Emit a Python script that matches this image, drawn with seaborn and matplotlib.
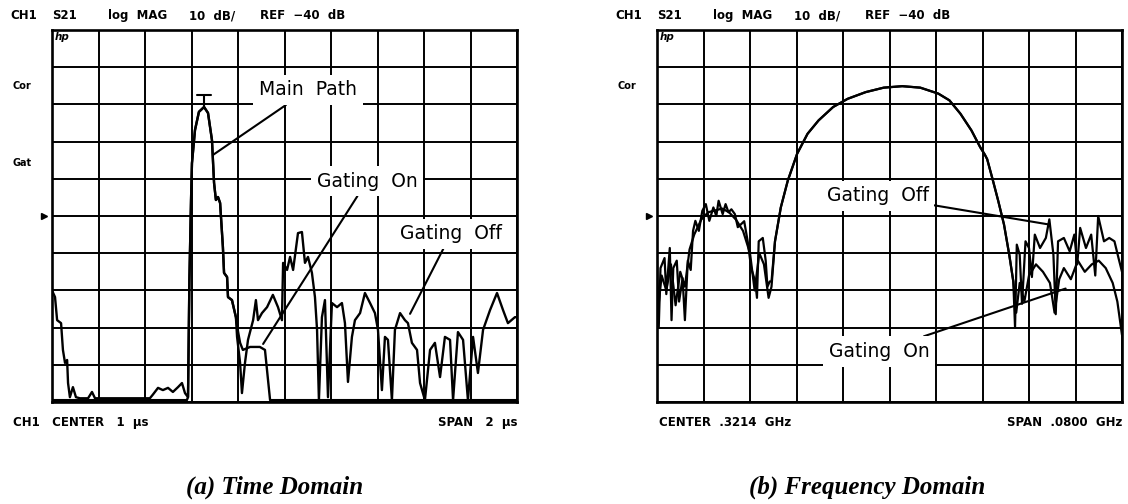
import numpy as np
import pandas as pd
import matplotlib
matplotlib.use("Agg")
import matplotlib.pyplot as plt
import seaborn as sns

# ---- (a) time domain, x in microseconds, y in dB ----
time_off_t = [0.000, 0.013, 0.022, 0.039, 0.047, 0.056, 0.065, 0.069, 0.077, 0.090,
              0.103, 0.120, 0.155, 0.172, 0.185, 0.421, 0.434, 0.456, 0.477, 0.499,
              0.520, 0.542, 0.559, 0.572, 0.585, 0.591, 0.598, 0.602, 0.615, 0.632,
              0.654, 0.671, 0.688, 0.697, 0.705, 0.714, 0.723, 0.735, 0.740, 0.753,
              0.757, 0.774, 0.791, 0.796, 0.809, 0.817, 0.830, 0.843, 0.865, 0.877,
              0.886, 0.903, 0.925, 0.950, 0.972, 0.989, 0.994, 1.011, 1.024, 1.037,
              1.058, 1.075, 1.088, 1.101, 1.118, 1.131, 1.140, 1.148, 1.161, 1.174,
              1.187, 1.204, 1.226, 1.247, 1.260, 1.273, 1.290, 1.303, 1.325, 1.346,
              1.368, 1.389, 1.402, 1.419, 1.432, 1.445, 1.462, 1.475, 1.497, 1.518,
              1.531, 1.548, 1.570, 1.583, 1.604, 1.626, 1.647, 1.669, 1.690, 1.712,
              1.725, 1.746, 1.768, 1.789, 1.811, 1.832, 1.854, 1.884, 1.914, 1.940,
              1.961, 1.991, 2.000]
time_off_db = [-60, -61.8, -68, -68.8, -76, -79.5, -78.7, -84.9, -88.7, -86,
               -88.7, -89, -89, -87.3, -89, -89, -88, -86.2, -86.8, -86.2,
               -87.3, -86, -84.9, -87.6, -88.7, -57, -35.7, -25.8, -16.9, -12,
               -10.7, -12.3, -19.6, -31.1, -35.7, -34.9, -36.5, -48.3, -55.3, -56.4,
               -61.8, -62.6, -67.2, -72.5, -79.5, -87.6, -79.5, -73.3, -68, -62.6,
               -68, -66.1, -64.5, -61.2, -64.5, -68, -52.6, -54.5, -51, -54.5,
               -44.6, -44.3, -52.6, -51, -55.3, -61.8, -70.6, -89.5, -67.2, -62.6,
               -88.7, -63.4, -64.5, -63.4, -68.8, -84.6, -72.5, -68, -66.1, -60.7,
               -63.4, -66.1, -70.6, -86.8, -72.5, -73.3, -89.5, -70.6, -66.1, -68,
               -68.8, -74.1, -76, -84.9, -89.5, -76, -74.1, -83.3, -72.5, -73.3,
               -89.5, -71.2, -73.3, -89.5, -72.5, -82.2, -70.6, -65.3, -60.7, -65.3,
               -68.8, -67.2, -67.2]

time_on_t = [0.000, 0.580, 0.585, 0.591, 0.598, 0.602, 0.615, 0.632, 0.654, 0.671,
             0.688, 0.697, 0.705, 0.714, 0.723, 0.735, 0.740, 0.753, 0.757, 0.774,
             0.791, 0.800, 0.809, 0.821, 0.852, 0.894, 0.916, 0.929, 0.938, 2.000]
time_on_db = [-89.5, -89.5, -88.7, -57, -35.7, -25.8, -16.9, -12, -10.7, -12.3,
              -19.6, -31.1, -35.7, -34.9, -36.5, -48.3, -55.3, -56.4, -61.8, -62.6,
              -67.2, -71, -74.1, -76, -75.2, -75.2, -76, -84, -89.5, -89.5]

peak_t, peak_db, marker_db = 0.654, -10.7, -7.5

# ---- (b) frequency domain, x in GHz, y in dB ----
freq_off_f = [.2814, .2817, .2820, .2827, .2830, .2836, .2839, .2842, .2848, .2852,
              .2858, .2862, .2867, .2872, .2876, .2880, .2886, .2892, .2898, .2904,
              .2911, .2916, .2920, .2927, .2932, .2937, .2942, .2948, .2953, .2958,
              .2964, .2970, .2976, .2983, .2986, .2989, .2996, .3001, .3004, .3008,
              .3011, .3017, .3027, .3039, .3055, .3073, .3092, .3117, .3142, .3173,
              .3204, .3236, .3267, .3298, .3317, .3336, .3355, .3370, .3378, .3382,
              .3392, .3401, .3411, .3420, .3427, .3430, .3433, .3438, .3442, .3448,
              .3454, .3459, .3464, .3473, .3483, .3489, .3496, .3500, .3504, .3514,
              .3524, .3532, .3537, .3542, .3552, .3561, .3568, .3573, .3583, .3592,
              .3601, .3608, .3614]
freq_off_db = [-52, -70, -54, -51.3, -61, -48.6, -68, -54, -52, -63,
               -56.7, -68, -52, -54.5, -44, -41.3, -44, -38.6, -36.8, -41.3,
               -37.7, -40, -35.9, -39.5, -36.8, -39, -38.2, -39.5, -43, -42.3,
               -41.4, -46.8, -54, -57.6, -62, -46.8, -45.9, -52, -59, -57.6,
               -57.6, -46.8, -37.7, -30.5, -23.3, -17.9, -14.3, -10.7, -8.5, -6.7,
               -5.5, -5.1, -5.5, -7.1, -8.9, -12.5, -17, -21.5, -23.5, -24.7,
               -30.5, -35.9, -42.3, -50.4, -57.6, -70, -47.7, -50.4, -63.6, -46.8,
               -48.6, -56.4, -45, -48.6, -45.9, -40.9, -50.4, -66.4, -46.8, -45.9,
               -49.5, -45, -53, -43.2, -48.6, -45, -56, -40, -46.8, -45.9,
               -46.8, -51.3, -55]

freq_on_f = [.2814, .2822, .2830, .2838, .2846, .2854, .2862, .2870, .2878, .2890,
             .2902, .2914, .2926, .2938, .2950, .2962, .2974, .2982, .2990, .2998,
             .3006, .3011, .3017, .3027, .3039, .3055, .3073, .3092, .3117, .3142,
             .3173, .3204, .3236, .3267, .3298, .3317, .3336, .3355, .3370, .3378,
             .3382, .3392, .3401, .3411, .3420, .3427, .3432, .3438, .3446, .3454,
             .3466, .3478, .3490, .3498, .3506, .3514, .3526, .3538, .3550, .3562,
             .3574, .3586, .3598, .3606, .3614]
freq_on_db = [-68, -56, -60, -53, -64, -55, -59, -49, -45, -41,
              -39, -38.5, -38, -39, -41, -44, -50, -60, -50, -53,
              -62, -59, -46.8, -37.7, -30.5, -23.3, -17.9, -14.3, -10.7, -8.5,
              -6.7, -5.5, -5.1, -5.5, -7.1, -8.9, -12.5, -17, -21.5, -23.5,
              -24.7, -30.5, -35.9, -42.3, -50.4, -57.6, -66, -58, -63, -56,
              -53, -55, -58, -66, -57, -54, -57, -52, -55, -53,
              -52, -54, -58, -63, -72]

ref_db = -40
time_center, time_span = 1.0, 2.0
freq_center, freq_span = 0.3214, 0.08

sns.set_style("white")
plt.rcParams['font.family'] = ['DejaVu Sans']
plt.rcParams['text.color'] = 'black'

fig = plt.figure(figsize=(11.28, 5.04), dpi=100)
ax1 = fig.add_axes([52 / 1128, 1 - 402 / 504, 465 / 1128, 372 / 504])
ax2 = fig.add_axes([657 / 1128, 1 - 402 / 504, 465 / 1128, 372 / 504])

hdr = dict(fontsize=8.5, fontweight='bold', va='center', ha='left', clip_on=False)
lab = dict(fontsize=13.5, ha='center', va='center', zorder=6,
           bbox=dict(boxstyle='square,pad=0.3', fc='white', ec='none'))
lead = dict(arrowstyle='-', color='black', lw=1.5, shrinkA=0, shrinkB=0)


def screen(ax, center, span):
    lo, hi = center - span / 2, center + span / 2
    ax.set_xlim(lo, hi)
    ax.set_ylim(ref_db - 50, ref_db + 50)
    ax.set_xticks(np.linspace(lo, hi, 11))
    ax.set_yticks(np.arange(ref_db - 50, ref_db + 51, 10))
    ax.set_xticklabels([])
    ax.set_yticklabels([])
    ax.tick_params(length=0)
    ax.grid(True, color='black', lw=1.4)
    ax.set_axisbelow(True)
    for s in ax.spines.values():
        s.set_linewidth(1.9)
        s.set_color('black')
    # header line
    tr = ax.transAxes
    ax.text(-0.090, 1.038, 'CH1', transform=tr, **hdr)
    ax.text(0.0, 1.038, 'S21', transform=tr, **hdr)
    ax.text(0.120, 1.038, 'log  MAG', transform=tr, **hdr)
    ax.text(0.295, 1.038, '10  dB/', transform=tr, **hdr)
    ax.text(0.447, 1.038, 'REF  \u221240  dB', transform=tr, **hdr)
    ax.text(0.006, 0.994, 'hp', transform=tr, fontsize=7.5, fontweight='bold',
            style='italic', va='top', ha='left')
    ax.text(-0.064, 0.849, 'Cor', transform=tr, fontsize=7, fontweight='bold',
            ha='center', va='center', clip_on=False)
    ax.plot(lo - span * 0.017, ref_db, marker='>', ms=5, color='black',
            clip_on=False, zorder=5)


screen(ax1, time_center, time_span)
screen(ax2, freq_center, freq_span)

# traces
sns.lineplot(x=time_off_t, y=time_off_db, ax=ax1, color='black', lw=1.7,
             estimator=None, sort=False)
sns.lineplot(x=time_on_t, y=time_on_db, ax=ax1, color='black', lw=1.7,
             estimator=None, sort=False)
sns.lineplot(x=freq_off_f, y=freq_off_db, ax=ax2, color='black', lw=1.6,
             estimator=None, sort=False)
sns.lineplot(x=freq_on_f, y=freq_on_db, ax=ax2, color='black', lw=1.6,
             estimator=None, sort=False)
for ax in (ax1, ax2):
    ax.set_xlabel('')
    ax.set_ylabel('')

# marker at the main path peak
ax1.plot([peak_t - 0.03, peak_t + 0.03], [marker_db, marker_db], color='black', lw=1.5)
ax1.plot([peak_t, peak_t], [marker_db, peak_db], color='black', lw=1.5)

ax1.text(-0.064, 0.642, 'Gat', transform=ax1.transAxes, fontsize=7,
         fontweight='bold', ha='center', va='center', clip_on=False)

# labels with leader lines
ax1.annotate('Main  Path', xy=(0.692, -23.6), xytext=(1.101, -6.1),
             arrowprops=lead, **lab)
ax1.annotate('Gating  On', xy=(0.908, -74.4), xytext=(1.355, -30.6),
             arrowprops=lead, **lab)
ax1.annotate('Gating  Off', xy=(1.540, -66.3), xytext=(1.716, -44.8),
             arrowprops=lead, **lab)
ax2.annotate('Gating  Off', xy=(0.3489, -42.3), xytext=(0.3194, -34.6),
             arrowprops=lead, **lab)
ax2.annotate('Gating  On', xy=(0.3517, -59.5), xytext=(0.3196, -76.4),
             arrowprops=lead, **lab)

# bottom annotations
bot = dict(fontsize=8.5, fontweight='bold', va='center', clip_on=False)
ax1.text(-0.084, -0.054, 'CH1   CENTER   1  \u00b5s', transform=ax1.transAxes,
         ha='left', **bot)
ax1.text(1.0, -0.054, 'SPAN   2  \u00b5s', transform=ax1.transAxes, ha='right', **bot)
ax2.text(0.004, -0.054, 'CENTER  .3214  GHz', transform=ax2.transAxes,
         ha='left', **bot)
ax2.text(1.0, -0.054, 'SPAN  .0800  GHz', transform=ax2.transAxes, ha='right', **bot)

# captions
cap = dict(family=['Liberation Serif', 'DejaVu Serif'], fontweight='bold',
           style='italic', fontsize=18, ha='center', va='center')
fig.text(275 / 1128, 1 - 487 / 504, '(a) Time Domain', **cap)
fig.text(867 / 1128, 1 - 487 / 504, '(b) Frequency Domain', **cap)

fig.savefig('out.png', dpi=100, facecolor='white')
